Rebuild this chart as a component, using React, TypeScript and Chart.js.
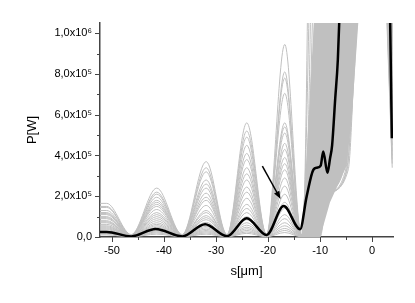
import React, { useEffect, useRef } from 'react';
import { Chart, registerables } from 'chart.js';

Chart.register(...registerables);

// ---------- axis ranges & ticks ----------
const X_MIN = -52.3;
const X_MAX = 4;
const Y_MIN = 0;
const Y_MAX = 1.05e6;
const xMajorTicks = [-50, -40, -30, -20, -10, 0];
const xMinorTicks = [-45, -35, -25, -15, -5];
const yMajorTicks = [0, 2e5, 4e5, 6e5, 8e5, 1e6];
const yTickLabels = ['0,0', '2,0x10⁵', '4,0x10⁵', '6,0x10⁵', '8,0x10⁵', '1,0x10⁶'];
const yMinorTicks = [1e5, 3e5, 5e5, 7e5, 9e5];
const xTitle = 's[μm]';
const yTitle = 'P[W]';

// ---------- highlighted (black) curve ----------
const blackX = [-52.3, -51.0, -46.3, -41.6, -36.5, -32.1, -27.9, -24.1, -20.3, -17.0, -13.85, -12.6, -11.3, -10.6, -9.9, -9.4, -8.6, -8.1, -7.7, -7.1, -6.6, -6.2, 0, 3.4, 3.78];
const blackY = [2.4e4, 2.5e4, 3e3, 3.9e4, 3e3, 6.3e4, 4e3, 9.2e4, 1.0e4, 1.52e5, 3.8e4, 1.98e5, 3.3e5, 3.4e5, 3.5e5, 4.2e5, 3.15e5, 3.85e5, 4.5e5, 6.8e5, 8.7e5, 1.15e6, null, 1.15e6, 4.85e5];

// ---------- bundle of gray curves ----------
const grayStartX = -52.3;
const grayPeakX = [-51.0, -41.4, -31.9, -24.1, -16.8];
const grayMinX = [-46.3, -36.5, -27.9, -20.3, -13.6];
const grayCeil = 1.15e6;
const grayEndX = 3.85;
const grayPeaks: number[][] = [
  [1.65e5, 2.40e5, 3.70e5, 5.60e5, 9.45e5],
  [1.50e5, 2.20e5, 3.40e5, 5.20e5, 8.10e5],
  [1.45e5, 2.10e5, 3.20e5, 4.90e5, 7.80e5],
  [1.30e5, 1.95e5, 2.80e5, 4.50e5, 7.05e5],
  [1.20e5, 1.80e5, 2.60e5, 4.10e5, 5.60e5],
  [1.15e5, 1.70e5, 2.40e5, 3.80e5, 5.40e5],
  [1.10e5, 1.60e5, 2.15e5, 3.40e5, 5.10e5],
  [1.00e5, 1.50e5, 1.95e5, 3.10e5, 4.60e5],
  [0.95e5, 1.35e5, 1.80e5, 2.80e5, 4.30e5],
  [0.90e5, 1.20e5, 1.55e5, 2.45e5, 3.90e5],
  [0.80e5, 1.10e5, 1.30e5, 2.20e5, 3.60e5],
  [0.75e5, 1.00e5, 1.20e5, 1.90e5, 3.30e5],
  [0.70e5, 0.90e5, 1.05e5, 1.60e5, 2.90e5],
  [0.62e5, 0.80e5, 0.95e5, 1.40e5, 2.50e5],
  [0.55e5, 0.70e5, 0.85e5, 1.20e5, 2.10e5],
  [0.50e5, 0.62e5, 0.72e5, 1.00e5, 1.70e5],
  [0.45e5, 0.55e5, 0.62e5, 0.85e5, 1.40e5],
  [0.40e5, 0.48e5, 0.52e5, 0.70e5, 1.10e5],
  [0.35e5, 0.40e5, 0.45e5, 0.58e5, 0.90e5],
  [0.30e5, 0.35e5, 0.38e5, 0.48e5, 0.70e5],
  [0.25e5, 0.30e5, 0.32e5, 0.40e5, 0.55e5],
  [0.20e5, 0.25e5, 0.26e5, 0.32e5, 0.42e5],
  [0.15e5, 0.20e5, 0.20e5, 0.25e5, 0.32e5],
  [0.10e5, 0.14e5, 0.14e5, 0.18e5, 0.22e5],
];
const grayMinV = [1.2e4, 1.1e4, 1.0e4, 1.0e4, 9e3, 9e3, 8e3, 8e3, 7e3, 7e3, 6e3, 6e3, 5e3, 5e3, 5e3, 4e3, 4e3, 4e3, 3e3, 3e3, 3e3, 2e3, 2e3, 1e3];
const grayRiseS = [-13.3, -13.2, -13.1, -13.0, -12.9, -12.8, -12.6, -12.4, -12.2, -12.0, -11.8, -11.6, -11.4, -11.2, -11.0, -10.9, -10.8, -10.6, -10.5, -10.4, -10.3, -10.2, -10.1, -10.0];
const grayRiseA = [-13.0, -12.9, -12.7, -12.5, -12.3, -12.1, -11.8, -11.5, -11.2, -11.0, -10.7, -10.5, -10.2, -10.0, -9.8, -9.6, -9.4, -9.2, -9.0, -8.9, -8.8, -8.7, -8.7, -8.7];
const grayRiseAV = [2.0e5, 2.5e5, 2.5e5, 2.8e5, 3.0e5, 3.0e5, 3.2e5, 3.0e5, 3.3e5, 3.0e5, 3.2e5, 3.0e5, 3.0e5, 2.8e5, 2.6e5, 2.5e5, 2.5e5, 2.3e5, 2.2e5, 2.1e5, 2.0e5, 2.0e5, 2.0e5, 1.9e5];
const grayRiseB = [-12.7, -12.5, -12.2, -11.9, -11.6, -11.2, -10.9, -10.5, -10.0, -9.6, -9.2, -8.8, -8.4, -8.0, -7.5, -7.0, -6.5, -6.0, -5.6, -5.3, -5.0, -4.8, -4.6, -5.0];
const grayRiseBV = [6.0e5, 6.5e5, 6.0e5, 6.5e5, 6.0e5, 6.5e5, 5.5e5, 6.0e5, 5.5e5, 5.0e5, 5.0e5, 5.0e5, 4.5e5, 4.5e5, 4.2e5, 4.0e5, 4.0e5, 3.8e5, 3.6e5, 3.5e5, 3.4e5, 3.3e5, 3.3e5, 3.2e5];
const grayRiseT = [-12.4, -12.1, -11.8, -11.4, -11.0, -10.6, -10.2, -9.8, -9.3, -8.8, -8.3, -7.8, -7.3, -6.8, -6.3, -5.8, -5.3, -4.8, -4.4, -4.0, -3.6, -3.3, -3.0, -2.6];
const grayFallX = [2.69, 2.75, 2.8, 2.85, 2.9, 2.95, 3.0, 3.05, 3.1, 3.15, 3.2, 3.25, 3.3, 3.35, 3.4, 3.45, 3.5, 3.55, 3.6, 3.65, 3.7, 3.75, 3.8, 3.82];
const grayEndV = [3.4e5, 3.6e5, 3.8e5, 4.0e5, 4.2e5, 4.5e5, 4.8e5, 5.0e5, 5.3e5, 5.6e5, 5.9e5, 6.2e5, 6.5e5, 6.8e5, 7.1e5, 7.4e5, 7.7e5, 8.0e5, 8.3e5, 8.6e5, 8.9e5, 9.2e5, 9.6e5, 1.0e6];

// dense part of the bundle (outline of the solid gray mass)
const bandX = [-13.6, -12.6, -11.0, -2.4, -3.9, -4.9, -8.1, -10.0, -13.6];
const bandY = [1.0e4, 4.0e5, 1.15e6, 1.15e6, 6.0e5, 3.5e5, 1.7e5, 0, 1.0e4];

// arrow annotation (data coordinates)
const arrowFrom = { x: -21.1, y: 3.48e5 };
const arrowTo = { x: -17.6, y: 1.86e5 };

const GRAY = '#c0c0c0';
const AXIS = '#444444';
const FONT = "'Liberation Sans', Arial, Helvetica, sans-serif";

export default function App() {
  const ref = useRef<HTMLCanvasElement>(null);

  useEffect(() => {
    document.body.style.margin = '0';
    const canvas = ref.current;
    if (!canvas) return;

    const datasets: any[] = [];
    datasets.push({
      label: 'selected',
      data: blackX.map((x, i) => ({ x, y: blackY[i] })),
      borderColor: '#000000',
      borderWidth: 2.5,
      pointRadius: 0,
      cubicInterpolationMode: 'monotone',
      spanGaps: false,
      fill: false,
    });
    grayPeaks.forEach((p, i) => {
      const mv = grayMinV[i];
      const pts: any[] = [{ x: grayStartX, y: p[0] }];
      for (let k = 0; k < grayPeakX.length; k++) {
        pts.push({ x: grayPeakX[k], y: p[k] });
        pts.push({ x: grayMinX[k], y: mv });
      }
      pts.push({ x: grayRiseS[i], y: mv });
      pts.push({ x: grayRiseA[i], y: grayRiseAV[i] });
      pts.push({ x: grayRiseB[i], y: grayRiseBV[i] });
      pts.push({ x: grayRiseT[i], y: grayCeil });
      pts.push({ x: 0, y: null });
      pts.push({ x: grayFallX[i], y: grayCeil });
      pts.push({ x: grayEndX, y: grayEndV[i] });
      datasets.push({
        label: 'run ' + (i + 1),
        data: pts,
        borderColor: GRAY,
        borderWidth: 1,
        pointRadius: 0,
        cubicInterpolationMode: 'monotone',
        spanGaps: false,
        fill: false,
      });
    });
    datasets.push({
      label: 'bundle',
      data: bandX.map((x, i) => ({ x, y: bandY[i] })),
      borderWidth: 0,
      borderColor: GRAY,
      backgroundColor: GRAY,
      pointRadius: 0,
      tension: 0,
      fill: 'shape',
    });

    const decorPlugin = {
      id: 'decor',
      afterDraw(chart: any) {
        const { ctx, chartArea } = chart;
        const xs = chart.scales.x;
        const ys = chart.scales.y;
        ctx.save();
        ctx.strokeStyle = AXIS;
        ctx.lineWidth = 1;
        const vt = (v: number, len: number) => {
          const px = Math.round(xs.getPixelForValue(v)) + 0.5;
          ctx.beginPath();
          ctx.moveTo(px, chartArea.bottom);
          ctx.lineTo(px, chartArea.bottom + len);
          ctx.stroke();
        };
        const ht = (v: number, len: number) => {
          const py = Math.round(ys.getPixelForValue(v)) + 0.5;
          ctx.beginPath();
          ctx.moveTo(chartArea.left, py);
          ctx.lineTo(chartArea.left - len, py);
          ctx.stroke();
        };
        xMajorTicks.forEach((v) => vt(v, 5));
        xMinorTicks.forEach((v) => vt(v, 3));
        yMajorTicks.forEach((v) => ht(v, 5));
        yMinorTicks.forEach((v) => ht(v, 3));

        // arrow
        const x1 = xs.getPixelForValue(arrowFrom.x);
        const y1 = ys.getPixelForValue(arrowFrom.y);
        const x2 = xs.getPixelForValue(arrowTo.x);
        const y2 = ys.getPixelForValue(arrowTo.y);
        const ang = Math.atan2(y2 - y1, x2 - x1);
        const hl = 8;
        const hw = 3;
        ctx.strokeStyle = '#000';
        ctx.fillStyle = '#000';
        ctx.lineWidth = 1.5;
        ctx.beginPath();
        ctx.moveTo(x1, y1);
        ctx.lineTo(x2 - Math.cos(ang) * hl * 0.8, y2 - Math.sin(ang) * hl * 0.8);
        ctx.stroke();
        const bx = x2 - Math.cos(ang) * hl;
        const by = y2 - Math.sin(ang) * hl;
        ctx.beginPath();
        ctx.moveTo(x2, y2);
        ctx.lineTo(bx + Math.sin(ang) * hw, by - Math.cos(ang) * hw);
        ctx.lineTo(bx - Math.sin(ang) * hw, by + Math.cos(ang) * hw);
        ctx.closePath();
        ctx.fill();
        ctx.restore();
      },
    };

    const chart = new Chart(canvas, {
      type: 'line',
      data: { datasets },
      options: {
        animation: false,
        responsive: false,
        devicePixelRatio: 1,
        layout: { padding: { top: 23, right: 22, left: 0, bottom: 0 } },
        plugins: { legend: { display: false }, tooltip: { enabled: false } },
        elements: { line: { borderJoinStyle: 'round' } },
        scales: {
          x: {
            type: 'linear',
            min: X_MIN,
            max: X_MAX,
            afterBuildTicks: (s: any) => { s.ticks = xMajorTicks.map((v) => ({ value: v })); },
            afterFit: (s: any) => { s.height = 66; },
            grid: { display: true, drawOnChartArea: false, drawTicks: false },
            border: { display: true, color: AXIS, width: 1.5 },
            ticks: {
              autoSkip: false,
              maxRotation: 0,
              padding: 7,
              color: '#000',
              font: { family: FONT, size: 11 },
              callback: (v: any) => String(v),
            },
            title: {
              display: true,
              text: xTitle,
              color: '#000',
              font: { family: FONT, size: 13 },
              padding: { top: 0, bottom: 24 },
            },
          },
          y: {
            type: 'linear',
            min: Y_MIN,
            max: Y_MAX,
            afterBuildTicks: (s: any) => { s.ticks = yMajorTicks.map((v) => ({ value: v })); },
            afterFit: (s: any) => { s.width = 100; },
            grid: { display: true, drawOnChartArea: false, drawTicks: false },
            border: { display: true, color: AXIS, width: 1.5 },
            ticks: {
              autoSkip: false,
              padding: 8,
              color: '#000',
              font: { family: FONT, size: 11 },
              callback: (v: any, i: number) => {
                let idx = yMajorTicks.indexOf(Number(v));
                if (idx < 0) idx = i;
                return yTickLabels[idx] ?? '';
              },
            },
            title: {
              display: true,
              text: yTitle,
              color: '#000',
              font: { family: FONT, size: 13 },
              padding: { top: 25, bottom: 0 },
            },
          },
        },
      },
      plugins: [decorPlugin],
    } as any);

    return () => chart.destroy();
  }, []);

  return (
    <div style={{ width: 415, height: 303 }}>
      <canvas ref={ref} width={415} height={303} style={{ display: 'block' }} />
    </div>
  );
}
